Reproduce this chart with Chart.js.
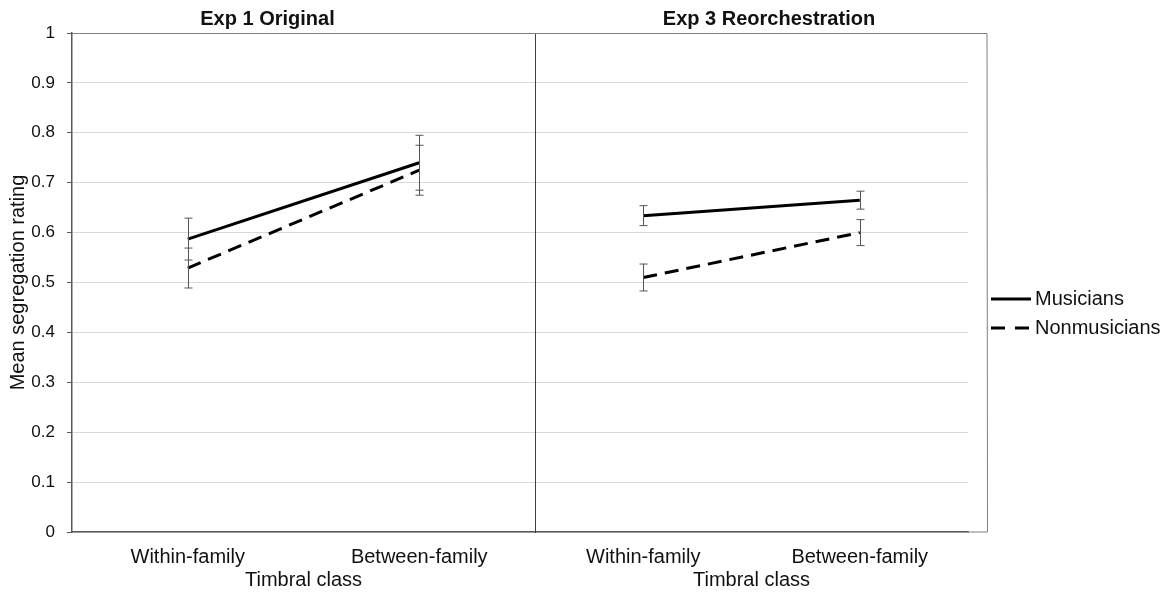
<!DOCTYPE html>
<html>
<head>
<meta charset="utf-8">
<script src="https://cdn.jsdelivr.net/npm/chart.js@4"></script>
<style>
  body { margin: 0; background: #fff; width: 1164px; height: 592px; position: relative; overflow: hidden; }
  canvas { position: absolute; top: 0; }
  #links { left: 0; }
  #rechts { left: 535px; }
  .legende { position: absolute; left: 990px; font: 20px 'Liberation Sans', Arial, sans-serif; color: #111; display: flex; align-items: center; }
  .legende svg { margin-right: 3px; }
</style>
</head>
<body>
<canvas id="links" width="535" height="592"></canvas>
<canvas id="rechts" width="468" height="592"></canvas>
<div class="legende" style="top:287px"><svg width="42" height="6"><line x1="1" y1="3" x2="41" y2="3" stroke="#000" stroke-width="3"/></svg>Musicians</div>
<div class="legende" style="top:316px"><svg width="42" height="6"><line x1="1" y1="3" x2="41" y2="3" stroke="#000" stroke-width="3" stroke-dasharray="14 10"/></svg>Nonmusicians</div>
<script>
// --- Daten ---
const kategorien = ['Within-family', 'Between-family'];
const yTickLabels = ['0', '0.1', '0.2', '0.3', '0.4', '0.5', '0.6', '0.7', '0.8', '0.9', '1'];

const exp1Musiker       = [0.587, 0.740];
const exp1MusikerFehler = [0.042, 0.055];
const exp1Laien         = [0.529, 0.725];
const exp1LaienFehler   = [0.040, 0.050];

const exp3Musiker       = [0.634, 0.665];
const exp3MusikerFehler = [0.020, 0.018];
const exp3Laien         = [0.510, 0.600];
const exp3LaienFehler   = [0.027, 0.026];

const SCHRIFT = "'Liberation Sans', Arial, sans-serif";
const GRID_FARBE = '#d9d9d9';
const ACHSE_FARBE = '#595959';

// Fehlerbalken aus dataset.fehler über die y-Skala zeichnen
const fehlerbalken = {
  id: 'fehlerbalken',
  afterDatasetsDraw(chart) {
    const { ctx } = chart;
    const y = chart.scales.y;
    ctx.save();
    ctx.strokeStyle = '#555';
    ctx.lineWidth = 1;
    chart.data.datasets.forEach((ds, i) => {
      const meta = chart.getDatasetMeta(i);
      meta.data.forEach((pt, j) => {
        const oben = y.getPixelForValue(ds.data[j] + ds.fehler[j]);
        const unten = y.getPixelForValue(ds.data[j] - ds.fehler[j]);
        const x = Math.round(pt.x) + 0.5;
        ctx.beginPath();
        ctx.moveTo(x, oben); ctx.lineTo(x, unten);
        ctx.moveTo(x - 4, oben); ctx.lineTo(x + 4, oben);
        ctx.moveTo(x - 4, unten); ctx.lineTo(x + 4, unten);
        ctx.stroke();
      });
    });
    ctx.restore();
  }
};

// Rahmen oben (und rechts beim zweiten Panel)
const rahmen = {
  id: 'rahmen',
  afterDraw(chart, args, opts) {
    const { ctx, chartArea: a } = chart;
    const rechts = a.right + (opts.extra || 0);
    ctx.save();
    ctx.strokeStyle = '#7f7f7f';
    ctx.lineWidth = 1;
    ctx.beginPath();
    ctx.moveTo(a.left, Math.round(a.top) + 0.5);
    ctx.lineTo(rechts, Math.round(a.top) + 0.5);
    if (opts.extra) {
      ctx.lineTo(rechts + 0.5, a.bottom);
      ctx.lineTo(a.right, a.bottom);
    }
    ctx.stroke();
    ctx.restore();
  }
};

function datensaetze(musiker, musikerFehler, laien, laienFehler) {
  return [
    {
      label: 'Musicians',
      data: musiker,
      fehler: musikerFehler,
      borderColor: '#000',
      borderWidth: 3,
      pointRadius: 0,
      tension: 0,
    },
    {
      label: 'Nonmusicians',
      data: laien,
      fehler: laienFehler,
      borderColor: '#000',
      borderWidth: 3,
      borderDash: [14, 8],
      pointRadius: 0,
      tension: 0,
    },
  ];
}

function optionen(titel, mitYAchse) {
  const skalen = {
    x: {
      type: 'category',
      offset: true,
      grid: { display: false, drawTicks: false },
      border: { display: true, color: ACHSE_FARBE, width: 1.5 },
      ticks: { color: '#111', font: { family: SCHRIFT, size: 20 }, padding: 13, maxRotation: 0 },
      title: {
        display: true,
        text: 'Timbral class',
        color: '#111',
        font: { family: SCHRIFT, size: 20 },
        padding: { top: 0, bottom: 0 },
      },
      afterFit: (achse) => { achse.height = 60; },
    },
    y: {
      min: 0,
      max: 1,
      ticks: {
        display: mitYAchse,
        stepSize: 0.1,
        color: '#111',
        font: { family: SCHRIFT, size: 17 },
        padding: 12,
        callback: (wert, i) => yTickLabels[i],
      },
      grid: {
        color: GRID_FARBE,
        drawTicks: mitYAchse,
        tickLength: 5,
        tickColor: ACHSE_FARBE,
      },
      border: { display: true, color: mitYAchse ? ACHSE_FARBE : '#404040', width: mitYAchse ? 1.5 : 1 },
      title: {
        display: mitYAchse,
        text: 'Mean segregation rating',
        color: '#111',
        font: { family: SCHRIFT, size: 20 },
        padding: { top: 6, bottom: 0 },
      },
      afterFit: (achse) => { achse.width = mitYAchse ? 72 : 0; },
    },
  };

  // Rechtes Panel: leere Achse als Platzhalter bis zum Legendenbereich,
  // damit der Titel über die volle Canvas-Breite zentriert bleibt
  if (!mitYAchse) {
    skalen.platz = {
      type: 'linear',
      position: 'right',
      display: true,
      ticks: { display: false },
      grid: { display: false, drawTicks: false },
      border: { display: false },
      afterFit: (achse) => { achse.width = 35; },
    };
  }

  return {
    responsive: false,
    animation: false,
    layout: { padding: 0 },
    plugins: {
      legend: { display: false },
      tooltip: { enabled: false },
      title: {
        display: true,
        text: titel,
        color: '#111',
        font: { family: SCHRIFT, size: 20, weight: 'bold' },
        padding: { top: 7, bottom: 2 },
      },
      rahmen: { extra: mitYAchse ? 0 : 19 },
    },
    scales: skalen,
  };
}

new Chart(document.getElementById('links'), {
  type: 'line',
  data: { labels: kategorien, datasets: datensaetze(exp1Musiker, exp1MusikerFehler, exp1Laien, exp1LaienFehler) },
  options: optionen('Exp 1 Original', true),
  plugins: [fehlerbalken, rahmen],
});

new Chart(document.getElementById('rechts'), {
  type: 'line',
  data: { labels: kategorien, datasets: datensaetze(exp3Musiker, exp3MusikerFehler, exp3Laien, exp3LaienFehler) },
  options: optionen('Exp 3 Reorchestration', false),
  plugins: [fehlerbalken, rahmen],
});
</script>
</body>
</html>
